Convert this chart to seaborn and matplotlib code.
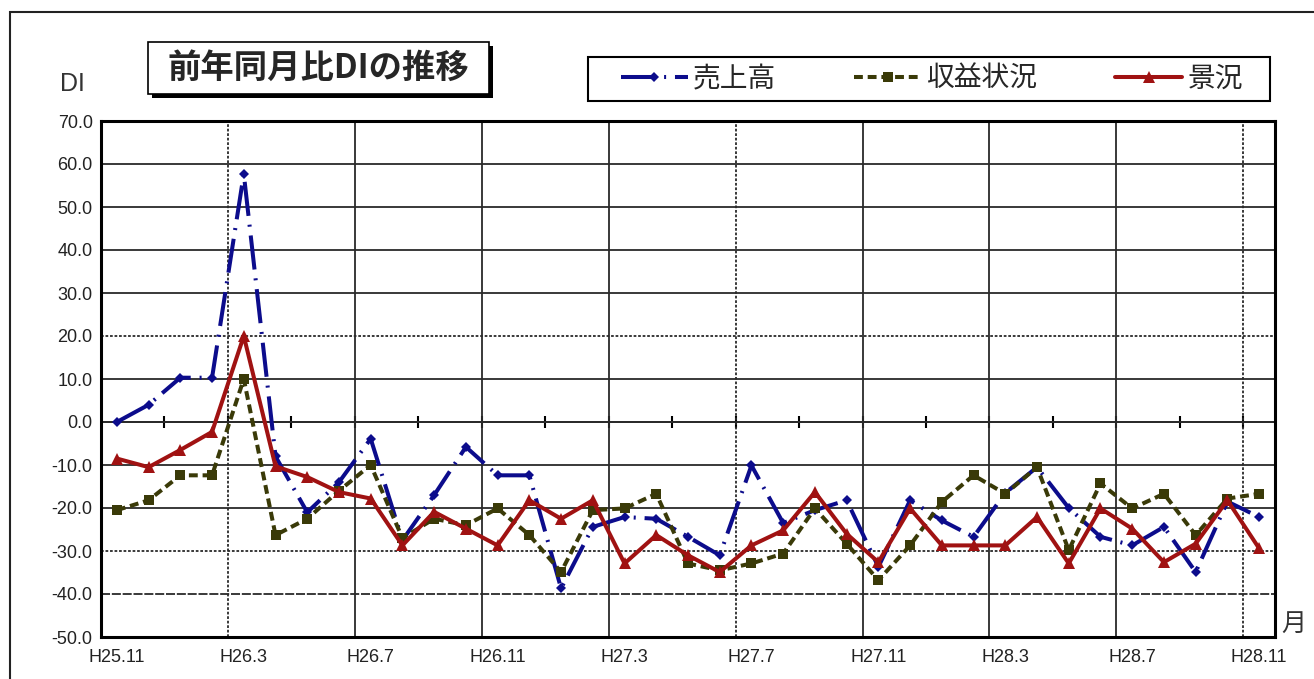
"""
前年同月比DIの推移 : 売上高 / 収益状況 / 景況 (H25.11 - H28.11)
"""

import numpy as np
import pandas as pd
import seaborn as sns
import matplotlib.pyplot as plt
from matplotlib.patches import Rectangle

# données
months = ["H25.11", "H25.12",
          "H26.1", "H26.2", "H26.3", "H26.4", "H26.5", "H26.6",
          "H26.7", "H26.8", "H26.9", "H26.10", "H26.11", "H26.12",
          "H27.1", "H27.2", "H27.3", "H27.4", "H27.5", "H27.6",
          "H27.7", "H27.8", "H27.9", "H27.10", "H27.11", "H27.12",
          "H28.1", "H28.2", "H28.3", "H28.4", "H28.5", "H28.6",
          "H28.7", "H28.8", "H28.9", "H28.10", "H28.11"]

series_names = ["売上高", "収益状況", "景況"]

uriage = [0, 4, 10.3, 10.3, 57.7, -8, -21, -14, -3.9, -27.5,
          -17, -5.8, -12.4, -12.4, -38.7, -24.4, -22.1, -22.5, -26.7, -31,
          -10.1, -23.5, -20.5, -18.2, -33.7, -18.2, -22.9, -26.7, -16.5, -10.5,
          -20, -26.7, -28.7, -24.4, -34.9, -18.5, -22.1]

shueki = [-20.5, -18.2, -12.4, -12.4, 10, -26.3, -22.5, -16, -10, -27,
          -22.5, -24, -20.1, -26.3, -34.9, -20.5, -20.1, -16.7, -32.9, -34.5,
          -32.9, -30.6, -20.1, -28.3, -36.8, -28.7, -18.6, -12.4, -16.7, -10.5,
          -29.8, -14.3, -20.1, -16.7, -26.3, -17.8, -16.7]

keikyo = [-8.5, -10.5, -6.5, -2.3, 20, -10.3, -12.8, -16.3, -17.8, -28.7,
          -20.9, -24.8, -28.7, -18.2, -22.5, -18.2, -32.9, -26.3, -31, -34.9,
          -28.7, -25.2, -16.3, -26, -32.6, -20.1, -28.7, -28.7, -28.7, -22.1,
          -32.9, -20.1, -24.8, -32.6, -28.3, -18.2, -29.4]

y_ticks = [-50, -40, -30, -20, -10, 0, 10, 20, 30, 40, 50, 60, 70]

W, H = 1314, 679
JP = ["Noto Sans CJK JP", "DejaVu Sans"]


def fig_rect(fig, x0, y0, x1, y1, **kw):
    """rectangle en pixels (origine en haut à gauche)"""
    return Rectangle((x0 / W, 1 - y1 / H), (x1 - x0) / W, (y1 - y0) / H,
                     transform=fig.transFigure, **kw)


def main():
    sns.set_style("white")
    plt.rcParams["font.family"] = ["Liberation Sans", "Noto Sans CJK JP", "DejaVu Sans"]

    fig = plt.figure(figsize=(W / 100, H / 100), dpi=100)
    ax = fig.add_axes([101 / W, 1 - 637 / H, (1275 - 101) / W, (637 - 121) / H])

    # position des catégories (au milieu de chaque case)
    pos = np.arange(len(months)) + 0.5
    df = pd.DataFrame({
        "pos": np.tile(pos, 3),
        "val": np.concatenate([uriage, shueki, keikyo]),
        "series": np.repeat(series_names, len(months)),
    })

    palette = {"売上高": "#0c0c8c", "収益状況": "#3a3a08", "景況": "#a01212"}
    dashes = {"売上高": (8.5, 2.2, 0.5, 2.2), "収益状況": (2.2, 1.2), "景況": ""}
    markers = {"売上高": "D", "収益状況": "s", "景況": "^"}

    sns.lineplot(data=df, x="pos", y="val", hue="series", style="series",
                 hue_order=series_names, style_order=series_names,
                 palette=palette, dashes=dashes, markers=markers,
                 sort=False, lw=2.9, markeredgewidth=0, legend=False, ax=ax)

    handles = list(ax.lines[:3])
    for line, ms in zip(handles, [5.5, 7.5, 8.5]):
        line.set_markersize(ms)
        line.set_zorder(3)

    # axes
    ax.set_xlim(0, len(months))
    ax.set_ylim(-50, 70)
    ax.set_xlabel("")
    ax.set_ylabel("")
    ax.set_yticks(y_ticks)
    ax.set_yticklabels([f"{v:.1f}" for v in y_ticks])
    ax.set_xticks(pos[::4])
    ax.set_xticklabels(months[::4])
    ax.tick_params(axis="both", length=0, labelsize=13, colors="#222222")
    ax.tick_params(axis="y", pad=6)
    ax.tick_params(axis="x", pad=9, labelsize=13)
    for s in ax.spines.values():
        s.set_color("black")
        s.set_linewidth(2.2)

    # quadrillage
    ax.set_axisbelow(True)
    ax.yaxis.grid(True, color="#2a2a2a", lw=1.3)
    for v, gl in zip(y_ticks, ax.get_ygridlines()):
        if v in (20, -30):
            gl.set_linestyle((0, (1.5, 1)))
        elif v == -40:
            gl.set_linestyle((0, (5, 1)))
    for b in range(4, len(months), 4):
        ls = (0, (1.5, 1)) if b in (4, 20, 36) else "-"
        ax.axvline(b, color="#2a2a2a", lw=1.3, ls=ls, zorder=1)

    # petites graduations sur la ligne 0
    sec = ax.secondary_xaxis(0, transform=ax.transData)
    sec.set_xticks(np.arange(2, len(months), 2))
    sec.set_xticklabels([])
    sec.tick_params(direction="inout", length=9, width=1.5, color="black")
    sec.spines["bottom"].set_linewidth(1.3)

    # cadre extérieur
    fig.add_artist(fig_rect(fig, 10, 12, 1400, 760, fill=False, ec="#222222", lw=1.5))

    # titre avec ombre
    fig.add_artist(fig_rect(fig, 152, 46, 493, 98, fc="black", ec="none"))
    fig.add_artist(fig_rect(fig, 148, 42, 489, 94, fc="white", ec="black", lw=1.2))
    fig.text(318 / W, 1 - 68 / H, "前年同月比DIの推移", ha="center", va="center",
             fontsize=24, fontweight="bold", family=JP)

    # légende
    fig.add_artist(fig_rect(fig, 588, 57, 1270, 101, fc="white", ec="black", lw=1.5))
    fig.legend(handles, series_names, loc="center", bbox_to_anchor=(932 / W, 1 - 79 / H),
               ncol=3, frameon=False, prop={"family": JP, "size": 20},
               handlelength=2.4, handletextpad=0.2, columnspacing=2.8)

    fig.text(72 / W, 1 - 84 / H, "DI", ha="center", va="center", fontsize=18, color="#333333")
    fig.text(1294 / W, 1 - 624 / H, "月", ha="center", va="center", fontsize=18,
             color="#333333", family=JP)

    fig.savefig("out.png", dpi=100)


if __name__ == "__main__":
    main()
